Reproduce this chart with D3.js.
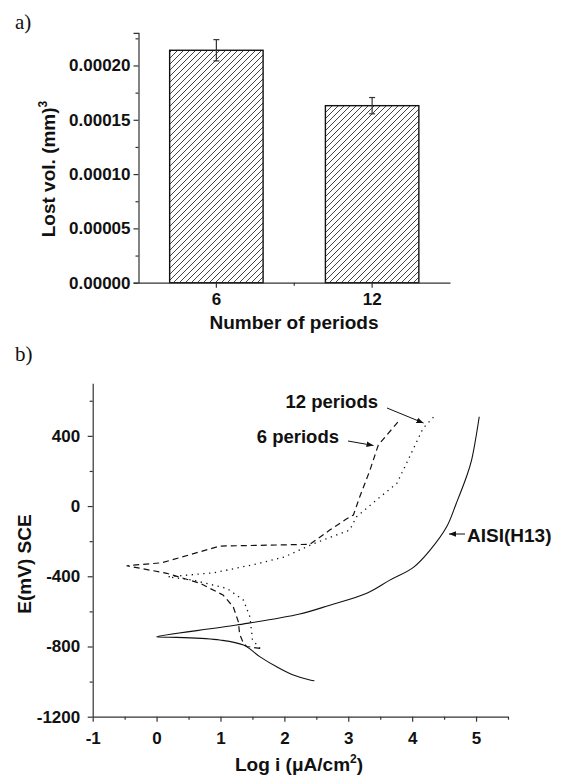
<!DOCTYPE html>
<html>
<head>
<meta charset="utf-8">
<script src="https://cdn.jsdelivr.net/npm/d3@7"></script>
<style>
  body { margin: 0; background: #fff; }
  svg { display: block; }
  text { font-family: "Liberation Sans", Arial, sans-serif; font-weight: bold; fill: #111; }
</style>
</head>
<body>
<svg width="562" height="777"></svg>
<script>
// ---- data: panel a ----
const periods = ['6', '12'];
const lostVol = [0.000214, 0.000163];
const lostVolErr = [0.0000098, 0.0000075];
const volTicks = [0, 0.00005, 0.0001, 0.00015, 0.0002];
const volMinor = [0.000025, 0.000075, 0.000125, 0.000175, 0.000225];

// ---- data: panel b, [log i, E(mV)] ----
const logTicks = [-1, 0, 1, 2, 3, 4, 5];
const logMinor = [-0.5, 0.5, 1.5, 2.5, 3.5, 4.5, 5.5];
const eTicks = [-1200, -800, -400, 0, 400];
const eMinor = [-1000, -600, -200, 200, 600];

const aisi = [
  [2.47, -995], [2.40, -991], [2.14, -963], [1.88, -916], [1.62, -859], [1.36, -792],
  [0.99, -763], [0.31, -748], [0, -745], [1.25, -678], [2.24, -615], [2.71, -565],
  [3.29, -497], [3.65, -422], [4.02, -349], [4.28, -251], [4.54, -118], [4.69, 15],
  [4.85, 167], [4.93, 262], [5.05, 509]
];
const sixPeriods = [
  [1.62, -811], [1.41, -800], [1.36, -782], [1.30, -730], [1.28, -660], [1.20, -574],
  [1.04, -507], [0.68, -440], [0.16, -383], [-0.47, -340], [0.08, -323], [0.99, -228],
  [2.40, -218], [2.71, -137], [2.97, -74], [3.08, -51], [3.18, 53], [3.34, 205],
  [3.47, 348], [3.78, 480]
];
const twelvePeriods = [
  [1.62, -811], [1.50, -763], [1.49, -725], [1.46, -631], [1.36, -536], [1.10, -469],
  [0.57, -422], [0.18, -403], [0.90, -380], [1.56, -330], [2.00, -290], [2.45, -215],
  [3.02, -137], [3.13, -61], [3.44, 34], [3.76, 129], [3.96, 281], [4.17, 443], [4.34, 509]
];

const svg = d3.select('svg');
const axisColor = '#333';

const defs = svg.append('defs');
defs.append('pattern')
  .attr('id', 'hatch')
  .attr('patternUnits', 'userSpaceOnUse')
  .attr('width', 6)
  .attr('height', 6)
  .append('path')
  .attr('d', 'M0,6 L6,0 M-1,1 L1,-1 M5,7 L7,5')
  .attr('stroke', '#444')
  .attr('stroke-width', 1);

defs.append('marker')
  .attr('id', 'arrow')
  .attr('viewBox', '0 0 10 10')
  .attr('refX', 10).attr('refY', 5)
  .attr('markerWidth', 7).attr('markerHeight', 7)
  .attr('markerUnits', 'userSpaceOnUse')
  .attr('orient', 'auto')
  .append('path')
  .attr('d', 'M0,1 L10,5 L0,9 Z')
  .attr('fill', '#111');

function styleAxis(g) {
  g.select('.domain').attr('stroke', axisColor).attr('stroke-width', 1.2);
  g.selectAll('.tick line').attr('stroke', axisColor).attr('stroke-width', 1.2);
  g.selectAll('.tick text')
    .attr('font-family', '"Liberation Sans", Arial, sans-serif')
    .attr('font-weight', 'bold')
    .attr('font-size', 17)
    .attr('fill', '#111');
}

// plain hyphen minus, no thousands separator
const plain = d => String(d);

// ================= panel a =================
const xA = d3.scaleBand()
  .domain(periods)
  .range([138.5, 450])
  .paddingInner(0.4)
  .paddingOuter(0.2);

const yA = d3.scaleLinear()
  .domain([0, 0.00023])
  .range([282.7, 32.9]);

svg.append('text')
  .text('a)')
  .attr('x', 15).attr('y', 29)
  .style('font-family', '"Liberation Serif", "Times New Roman", serif')
  .style('font-weight', 'normal')
  .attr('font-size', 21);

// bars
svg.append('g')
  .selectAll('rect')
  .data(periods)
  .join('rect')
  .attr('x', d => xA(d))
  .attr('y', (d, i) => yA(lostVol[i]))
  .attr('width', xA.bandwidth())
  .attr('height', (d, i) => yA(0) - yA(lostVol[i]))
  .attr('fill', 'url(#hatch)')
  .attr('stroke', '#111')
  .attr('stroke-width', 1.4);

// error bars
const errG = svg.append('g').attr('stroke', '#333').attr('stroke-width', 1.2);
periods.forEach((p, i) => {
  const cx = xA(p) + xA.bandwidth() / 2;
  const y0 = yA(lostVol[i] - lostVolErr[i]);
  const y1 = yA(lostVol[i] + lostVolErr[i]);
  errG.append('line').attr('x1', cx).attr('x2', cx).attr('y1', y0).attr('y2', y1);
  errG.append('line').attr('x1', cx - 3).attr('x2', cx + 3).attr('y1', y0).attr('y2', y0);
  errG.append('line').attr('x1', cx - 3).attr('x2', cx + 3).attr('y1', y1).attr('y2', y1);
});

// y axis a
const yAxisA = svg.append('g')
  .attr('transform', 'translate(138.5,0)')
  .call(d3.axisLeft(yA).tickValues(volTicks).tickFormat(d3.format('.5f')).tickSize(5).tickPadding(3));
styleAxis(yAxisA);
const yMinorA = svg.append('g')
  .attr('transform', 'translate(138.5,0)')
  .call(d3.axisLeft(yA).tickValues(volMinor).tickFormat('').tickSize(3).tickSizeOuter(0));
styleAxis(yMinorA);
yMinorA.select('.domain').remove();

// x axis a
const xAxisA = svg.append('g')
  .attr('transform', `translate(0,${yA(0)})`)
  .call(d3.axisBottom(xA).tickSize(5).tickSizeOuter(0).tickPadding(5.5));
styleAxis(xAxisA);
svg.append('line')
  .attr('x1', (xA('6') + xA('12') + xA.bandwidth()) / 2)
  .attr('x2', (xA('6') + xA('12') + xA.bandwidth()) / 2)
  .attr('y1', yA(0)).attr('y2', yA(0) + 3)
  .attr('stroke', axisColor).attr('stroke-width', 1.2);

svg.append('text')
  .attr('text-anchor', 'middle')
  .attr('font-size', 19)
  .attr('transform', 'translate(55,169) rotate(-90)')
  .text('Lost vol. (mm)')
  .append('tspan')
  .attr('dy', -8)
  .attr('font-size', 12)
  .text('3');

svg.append('text')
  .attr('text-anchor', 'middle')
  .attr('font-size', 19)
  .attr('x', 294).attr('y', 329)
  .text('Number of periods');

// ================= panel b =================
const xB = d3.scaleLinear().domain([-1, 5.5]).range([92.7, 508]);
const yB = d3.scaleLinear().domain([-1200, 700]).range([716.7, 383.2]);

svg.append('text')
  .text('b)')
  .attr('x', 15).attr('y', 361)
  .style('font-family', '"Liberation Serif", "Times New Roman", serif')
  .style('font-weight', 'normal')
  .attr('font-size', 21);

const yAxisB = svg.append('g')
  .attr('transform', `translate(${xB(-1)},0)`)
  .call(d3.axisLeft(yB).tickValues(eTicks).tickFormat(plain).tickSize(5).tickPadding(7.5).tickSizeOuter(0));
styleAxis(yAxisB);
const yMinorB = svg.append('g')
  .attr('transform', `translate(${xB(-1)},0)`)
  .call(d3.axisLeft(yB).tickValues(eMinor).tickFormat('').tickSize(3));
styleAxis(yMinorB);
yMinorB.select('.domain').remove();

const xAxisB = svg.append('g')
  .attr('transform', `translate(0,${yB(-1200)})`)
  .call(d3.axisBottom(xB).tickValues(logTicks).tickFormat(plain).tickSize(5).tickPadding(10).tickSizeOuter(0));
styleAxis(xAxisB);
const xMinorB = svg.append('g')
  .attr('transform', `translate(0,${yB(-1200)})`)
  .call(d3.axisBottom(xB).tickValues(logMinor).tickFormat('').tickSize(3));
styleAxis(xMinorB);
xMinorB.select('.domain').remove();

const smooth = d3.line()
  .x(d => xB(d[0]))
  .y(d => yB(d[1]))
  .curve(d3.curveCatmullRom.alpha(0.5));
const straight = d3.line()
  .x(d => xB(d[0]))
  .y(d => yB(d[1]));

svg.append('path')
  .datum(aisi)
  .attr('d', smooth)
  .attr('fill', 'none')
  .attr('stroke', '#111')
  .attr('stroke-width', 1.1);

svg.append('path')
  .datum(sixPeriods)
  .attr('d', straight)
  .attr('fill', 'none')
  .attr('stroke', '#111')
  .attr('stroke-width', 1.2)
  .attr('stroke-dasharray', '6,4');

svg.append('path')
  .datum(twelvePeriods)
  .attr('d', straight)
  .attr('fill', 'none')
  .attr('stroke', '#111')
  .attr('stroke-width', 1.3)
  .attr('stroke-dasharray', '1.3,4.5');

// annotations
const ann = svg.append('g');
ann.append('text').attr('text-anchor', 'end').attr('font-size', 18.5)
  .attr('x', 378).attr('y', 408).text('12 periods');
ann.append('line').attr('x1', 387).attr('y1', 408).attr('x2', 423.5).attr('y2', 423)
  .attr('stroke', '#111').attr('stroke-width', 1).attr('marker-end', 'url(#arrow)');

ann.append('text').attr('text-anchor', 'end').attr('font-size', 18.5)
  .attr('x', 339).attr('y', 443).text('6 periods');
ann.append('line').attr('x1', 348).attr('y1', 441).attr('x2', 373.5).attr('y2', 445.5)
  .attr('stroke', '#111').attr('stroke-width', 1).attr('marker-end', 'url(#arrow)');

ann.append('text').attr('text-anchor', 'start').attr('font-size', 19)
  .attr('x', 467).attr('y', 542).text('AISI(H13)');
ann.append('line').attr('x1', 465).attr('y1', 534).attr('x2', 449).attr('y2', 534)
  .attr('stroke', '#111').attr('stroke-width', 1).attr('marker-end', 'url(#arrow)');

// axis titles b
svg.append('text')
  .attr('text-anchor', 'middle')
  .attr('font-size', 19)
  .attr('transform', 'translate(31,564) rotate(-90)')
  .text('E(mV) SCE');

const xt = svg.append('text')
  .attr('text-anchor', 'middle')
  .attr('font-size', 19)
  .attr('x', 299).attr('y', 771);
xt.append('tspan').text('Log i (\u03BCA/cm');
xt.append('tspan').attr('dy', -8).attr('font-size', 12).text('2');
xt.append('tspan').attr('dy', 8).text(')');
</script>
</body>
</html>
